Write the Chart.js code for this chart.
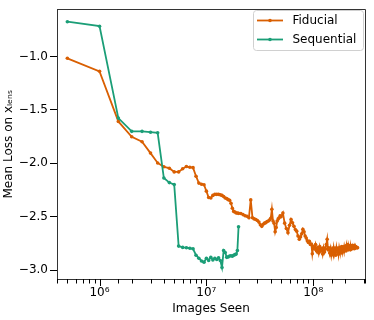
<!DOCTYPE html>
<html>
<head>
<meta charset="utf-8">
<script src="https://cdn.jsdelivr.net/npm/chart.js@4.4.1/dist/chart.umd.min.js"></script>
<style>
body { margin: 0; background: #fff; }
#box { width: 374px; height: 320px; }
</style>
</head>
<body>
<div id="box"><canvas id="grafico" width="374" height="320"></canvas></div>
<script>
// images seen / mean loss
const fidX = [
    0.5e6, 1e6, 1.5e6, 2e6, 2.5e6, 3e6, 3.5e6, 4e6, 4.5e6, 5e6,
    5.5e6, 6e6, 6.5e6, 7e6, 7.5e6, 8e6, 8.5e6, 9e6, 9.5e6, 10e6,
    10.5e6, 11e6, 11.5e6, 12e6, 12.5e6, 13e6, 13.5e6, 14e6, 14.5e6, 15e6,
    15.5e6, 16e6, 16.5e6, 17e6, 17.5e6, 18e6, 18.5e6, 19e6, 19.5e6, 20e6,
    21e6, 22e6, 23e6, 24e6, 25e6, 26e6, 27e6, 28e6, 29e6, 30e6,
    31e6, 32e6, 33e6, 34e6, 35e6, 36e6, 37e6, 38e6, 39e6, 40e6,
    41e6, 42e6, 43e6, 44e6, 45e6, 46e6, 47e6, 48e6, 49e6, 50e6,
    52e6, 54e6, 56e6, 58e6, 60e6, 62e6, 64e6, 66e6, 68e6, 70e6,
    72e6, 74e6, 76e6, 78e6, 80e6, 82e6, 84e6, 86e6, 88e6, 90e6,
    92e6, 94e6, 96e6, 98e6, 100e6,
    102.5e6, 105e6, 107.5e6, 110e6, 112.5e6, 115e6, 117.5e6, 120e6,
    122.5e6, 125e6, 127.5e6, 130e6, 132.5e6, 135e6, 137.5e6, 140e6,
    142.5e6, 145e6, 147.5e6, 150e6, 152.5e6, 155e6, 157.5e6, 160e6,
    162.5e6, 165e6, 167.5e6, 170e6, 172.5e6, 175e6, 177.5e6, 180e6,
    182.5e6, 185e6, 187.5e6, 190e6, 192.5e6, 195e6, 197.5e6, 200e6,
    202.5e6, 205e6, 207.5e6, 210e6, 212.5e6, 215e6, 217.5e6, 220e6,
    222.5e6, 225e6, 227.5e6, 230e6, 232.5e6, 235e6, 237.5e6, 240e6,
    242.5e6, 245e6, 247.5e6, 250e6, 252.5e6, 255e6, 257.5e6, 260e6
];
const fidY = [
    -1.016, -1.138, -1.607, -1.751, -1.797, -1.904, -1.996, -2.032, -2.045, -2.080,
    -2.080, -2.050, -2.030, -2.036, -2.040, -2.120, -2.185, -2.195, -2.200, -2.260,
    -2.320, -2.325, -2.300, -2.290, -2.290, -2.290, -2.295, -2.300, -2.310, -2.325,
    -2.330, -2.340, -2.345, -2.373, -2.420, -2.450, -2.455, -2.465, -2.465, -2.468,
    -2.470, -2.480, -2.490, -2.495, -2.510, -2.342, -2.510, -2.520, -2.526, -2.535,
    -2.550, -2.575, -2.590, -2.570, -2.560, -2.555, -2.545, -2.540, -2.530, -2.515,
    -2.430, -2.540, -2.560, -2.640, -2.600, -2.540, -2.520, -2.510, -2.490, -2.500,
    -2.465, -2.560, -2.610, -2.650, -2.580, -2.526, -2.557, -2.590, -2.620, -2.635,
    -2.680, -2.710, -2.690, -2.660, -2.618, -2.640, -2.680, -2.700, -2.725, -2.740,
    -2.730, -2.760, -2.755, -2.847, -2.780,
    -2.800, -2.760, -2.820, -2.790, -2.840, -2.780, -2.820, -2.800,
    -2.850, -2.790, -2.830, -2.800, -2.760, -2.710, -2.810, -2.790,
    -2.840, -2.800, -2.860, -2.810, -2.840, -2.790, -2.850, -2.820,
    -2.860, -2.790, -2.830, -2.800, -2.850, -2.790, -2.820, -2.800,
    -2.840, -2.780, -2.830, -2.800, -2.820, -2.780, -2.810, -2.790,
    -2.820, -2.770, -2.800, -2.760, -2.810, -2.780, -2.800, -2.770,
    -2.810, -2.780, -2.800, -2.770, -2.800, -2.780, -2.790, -2.770,
    -2.800, -2.780, -2.790, -2.780, -2.790, -2.785, -2.790, -2.790
];
const seqX = [
    0.5e6, 1e6, 1.5e6, 2e6, 2.5e6, 3e6, 3.5e6, 4e6, 4.5e6, 5e6,
    5.5e6, 6e6, 6.5e6, 7e6, 7.5e6, 8e6, 8.5e6, 9e6, 9.5e6, 10e6,
    10.5e6, 11e6, 11.5e6, 12e6, 12.5e6, 13e6, 13.5e6, 14e6, 14.5e6, 15e6,
    15.5e6, 16e6, 16.5e6, 17e6, 17.5e6, 18e6, 18.5e6, 19e6, 19.5e6, 20e6
];
const seqY = [
    -0.673, -0.715, -1.576, -1.700, -1.700, -1.708, -1.714, -2.137, -2.180, -2.199,
    -2.775, -2.787, -2.790, -2.795, -2.800, -2.860, -2.888, -2.915, -2.925, -2.888,
    -2.909, -2.879, -2.905, -2.888, -2.900, -2.885, -2.910, -2.976, -2.817, -2.835,
    -2.880, -2.876, -2.868, -2.865, -2.870, -2.860, -2.855, -2.850, -2.817, -2.594
];
const series = ['Fiducial', 'Sequential'];
const cores = ['#d95f02', '#1b9e77'];
const xTicks = [1e6, 1e7, 1e8];
const yTicks = [-3.0, -2.5, -2.0, -1.5, -1.0];

const fonte = 'DejaVu Sans';
const sup = { 6: '⁶', 7: '⁷', 8: '⁸' };

function ehPotencia(v) {
    const e = Math.log10(v);
    return Math.abs(e - Math.round(e)) < 1e-9;
}

const extras = {
    id: 'extras',
    afterDraw(chart) {
        const ctx = chart.ctx;
        const a = chart.chartArea;
        const xs = chart.scales.x;
        ctx.save();
        ctx.strokeStyle = '#333';
        ctx.lineWidth = 1;
        // top and right spines
        ctx.beginPath();
        ctx.moveTo(Math.round(a.left), Math.round(a.top) + 0.5);
        ctx.lineTo(Math.round(a.right) + 0.5, Math.round(a.top) + 0.5);
        ctx.lineTo(Math.round(a.right) + 0.5, Math.round(a.bottom));
        ctx.stroke();
        // x tick marks, major and minor
        ctx.strokeStyle = '#000';
        xs.ticks.forEach(t => {
            const px = Math.round(xs.getPixelForValue(t.value)) + 0.5;
            const len = ehPotencia(t.value) ? 7 : 4.5;
            ctx.beginPath();
            ctx.moveTo(px, a.bottom);
            ctx.lineTo(px, a.bottom + len);
            ctx.stroke();
        });
        // legend
        const bx = 253.5, by = 10.5, bw = 110, bh = 40;
        ctx.fillStyle = 'rgba(255,255,255,0.8)';
        ctx.strokeStyle = '#d0d0d0';
        ctx.beginPath();
        ctx.roundRect(bx, by, bw, bh, 3);
        ctx.fill();
        ctx.stroke();
        ctx.font = '12px "' + fonte + '"';
        ctx.textBaseline = 'middle';
        ctx.textAlign = 'left';
        series.forEach((nome, i) => {
            const y = 20.5 + i * 19;
            ctx.strokeStyle = cores[i];
            ctx.lineWidth = 1.8;
            ctx.beginPath();
            ctx.moveTo(257, y);
            ctx.lineTo(283, y);
            ctx.stroke();
            ctx.fillStyle = cores[i];
            ctx.beginPath();
            ctx.arc(270, y, 1.8, 0, Math.PI * 2);
            ctx.fill();
            ctx.fillStyle = '#000';
            ctx.fillText(nome, 292.5, y);
        });
        ctx.restore();
    }
};

const grafico = document.getElementById('grafico').getContext('2d');

let chart = new Chart(grafico, {
    type: 'line',
    data: {
        datasets: [{
            label: series[0],
            data: fidX.map((x, i) => ({ x: x, y: fidY[i] })),
            borderColor: cores[0],
            backgroundColor: cores[0],
            borderWidth: 1.8,
            pointRadius: 1.8,
            pointBorderWidth: 0,
            tension: 0,
            order: 1
        }, {
            label: series[1],
            data: seqX.map((x, i) => ({ x: x, y: seqY[i] })),
            borderColor: cores[1],
            backgroundColor: cores[1],
            borderWidth: 1.8,
            pointRadius: 1.8,
            pointBorderWidth: 0,
            tension: 0,
            order: 0
        }]
    },
    options: {
        responsive: false,
        animation: false,
        devicePixelRatio: 1,
        layout: { padding: { top: 4, right: 9, left: 0, bottom: 0 } },
        plugins: { legend: { display: false }, tooltip: { enabled: false } },
        scales: {
            x: {
                type: 'logarithmic',
                min: 4e5,
                max: 3.05e8,
                grid: { display: false, drawTicks: false },
                border: { display: true, color: '#333', width: 1 },
                ticks: {
                    autoSkip: false,
                    maxRotation: 0,
                    padding: 7,
                    color: '#000',
                    font: { family: fonte, size: 12 },
                    callback: v => xTicks.some(t => Math.abs(t - v) < 1) ? '10' + sup[Math.round(Math.log10(v))] : ''
                },
                title: {
                    display: true,
                    text: 'Images Seen',
                    color: '#000',
                    font: { family: fonte, size: 12 },
                    padding: { top: 0, bottom: 4 }
                },
                afterFit(s) { s.height = 41; }
            },
            y: {
                min: -3.083,
                max: -0.556,
                afterBuildTicks(s) { s.ticks = yTicks.map(v => ({ value: v })); },
                grid: { display: true, drawOnChartArea: false, drawTicks: true, tickLength: 7, tickColor: '#000' },
                border: { display: true, color: '#333', width: 1 },
                ticks: {
                    padding: 2,
                    color: '#000',
                    font: { family: fonte, size: 12 },
                    callback: v => v.toFixed(1).replace('-', '\u2212')
                },
                title: {
                    display: true,
                    text: 'Mean Loss on xₗₑₙₛ',
                    color: '#000',
                    font: { family: fonte, size: 12 },
                    padding: { top: 2, bottom: 0 }
                },
                afterFit(s) { s.width = 57; }
            }
        }
    },
    plugins: [extras]
});
</script>
</body>
</html>
